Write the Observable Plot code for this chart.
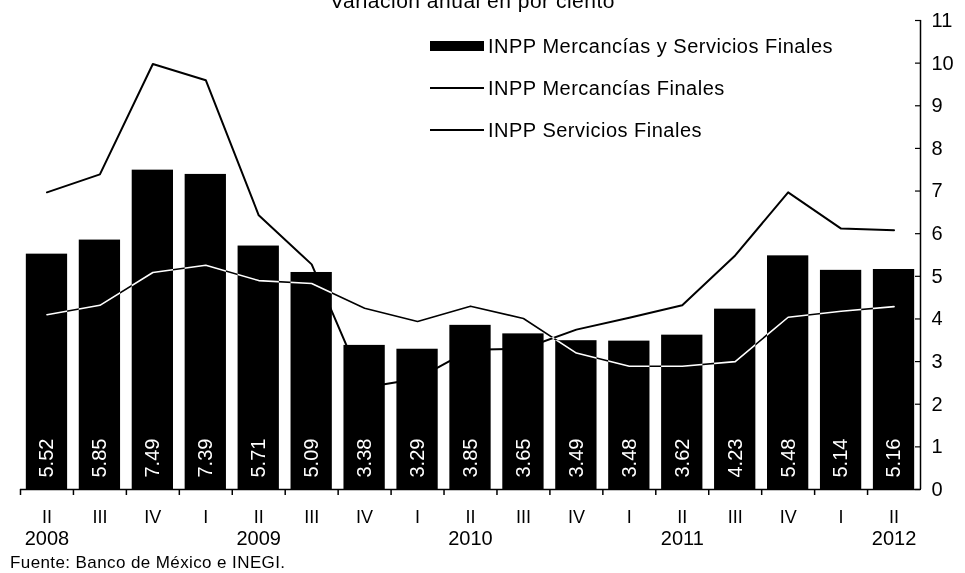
<!DOCTYPE html>
<html>
<head>
<meta charset="utf-8">
<script src="https://cdn.jsdelivr.net/npm/d3@7"></script>
<script src="https://cdn.jsdelivr.net/npm/@observablehq/plot@0.6"></script>
<style>
  html, body { margin: 0; padding: 0; background: #fff; }
  #wrap { position: relative; width: 965px; height: 573px; overflow: hidden; font-family: "Liberation Sans", Arial, sans-serif; color: #000; }
  #title { position: absolute; top: -10px; left: 0; width: 945px; text-align: center; font-size: 21px; line-height: 21px; letter-spacing: 0.5px; }
  #legend { position: absolute; left: 430px; top: 25px; }
  .row { height: 42px; display: flex; align-items: center; font-size: 20px; letter-spacing: 0.5px; white-space: nowrap; }
  .sw { width: 54px; margin-right: 4px; background: #000; }
  #source { position: absolute; left: 10px; top: 553px; font-size: 17px; line-height: 20px; letter-spacing: 0.4px; }
  #chart { position: absolute; left: 0; top: 0; }
</style>
</head>
<body>
<div id="wrap">
  <div id="chart"></div>
  <div id="title">Variación anual en por ciento</div>
  <div id="legend">
    <div class="row"><div class="sw" style="height:10px"></div>INPP Mercancías y Servicios Finales</div>
    <div class="row"><div class="sw" style="height:2px"></div>INPP Mercancías Finales</div>
    <div class="row"><div class="sw" style="height:1.5px"></div>INPP Servicios Finales</div>
  </div>
  <div id="source">Fuente: Banco de México e INEGI.</div>
</div>
<script>
const quarters = ["II","III","IV","I","II","III","IV","I","II","III","IV","I","II","III","IV","I","II"];
const years = [2008,2008,2008,2009,2009,2009,2009,2010,2010,2010,2010,2011,2011,2011,2011,2012,2012];
const mercServ = [5.52,5.85,7.49,7.39,5.71,5.09,3.38,3.29,3.85,3.65,3.49,3.48,3.62,4.23,5.48,5.14,5.16];
const mercancias = [6.97,7.39,9.98,9.60,6.43,5.28,2.39,2.60,3.28,3.30,3.75,4.03,4.32,5.49,6.97,6.12,6.08];
const servicios = [4.10,4.32,5.09,5.26,4.90,4.83,4.25,3.94,4.30,4.01,3.20,2.89,2.89,3.00,4.04,4.18,4.29];
const yTicks = [0,1,2,3,4,5,6,7,8,9,10,11];

const rows = quarters.map((q, i) => ({
  key: years[i] + "-" + q, q, year: years[i],
  total: mercServ[i], merc: mercancias[i], serv: servicios[i]
}));
const keys = rows.map(d => d.key);

const W = 965, H = 553, mL = 20, mR = 45;
const step = (W - mL - mR) / keys.length;

const chart = Plot.plot({
  width: W, height: H,
  marginLeft: mL, marginRight: mR, marginTop: 20, marginBottom: 64,
  style: { fontFamily: "Liberation Sans, Arial, sans-serif", fontSize: "20px", color: "#000", background: "transparent" },
  x: { domain: keys, paddingInner: 0.22, paddingOuter: 0.11, round: false, axis: null },
  y: { domain: [0, 11], axis: null },
  marks: [
    Plot.barY(rows, { x: "key", y: "total", fill: "black" }),
    Plot.line(rows, { x: "key", y: "merc", stroke: "black", strokeWidth: 2 }),
    Plot.line(rows, { x: "key", y: "serv", stroke: "white", strokeWidth: 1.6, mixBlendMode: "difference" }),
    Plot.text(rows, { x: "key", y: () => 0, text: d => d.total.toFixed(2), rotate: -90, textAnchor: "start", lineAnchor: "middle", fill: "white", dy: -12, fontSize: 20, letterSpacing: 0.6 }),
    Plot.ruleY([0], { stroke: "black", strokeWidth: 1.5 }),
    Plot.axisX({ ticks: keys, tickSize: 6, text: null, label: null, dx: -step / 2, strokeWidth: 1.5 }),
    Plot.ruleX([keys[keys.length - 1]], { x: d => d, dx: step / 2, y1: 0, y2: 11, stroke: "black", strokeWidth: 1.5 }),
    Plot.axisY({ anchor: "right", ticks: yTicks, tickSize: -6, tickPadding: 17, label: null, fontSize: 20, strokeWidth: 1.2 }),
    Plot.text(rows, { x: "key", y: () => 0, text: "q", dy: 28, fontSize: 18 }),
    Plot.text(rows.filter(d => d.q === "II"), { x: "key", y: () => 0, text: d => String(d.year), dy: 49, fontSize: 20 })
  ]
});
document.getElementById("chart").appendChild(chart);
</script>
</body>
</html>
